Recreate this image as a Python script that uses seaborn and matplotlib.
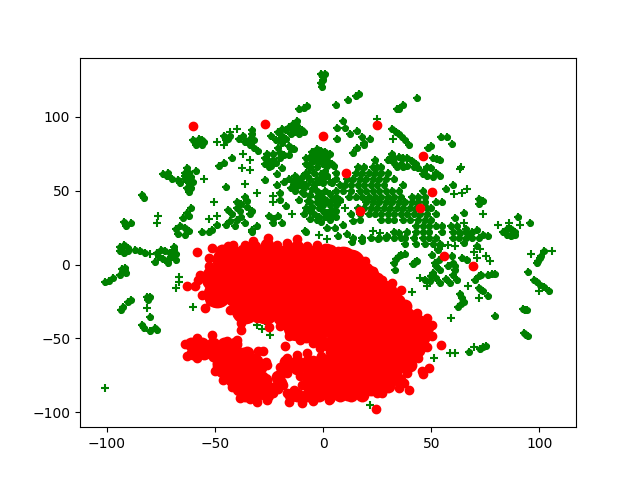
import seaborn as sns
import matplotlib
matplotlib.use("Agg")
import matplotlib.pyplot as plt

# (x, y)
# single crosses standing on their own
green_lone = [
    (-49,83),(-43,90),(-40,91.5),(-46,81),(-37,74.6),(-34,64),(-37.6,65.5),(-34,71),(-55,57.6),(-36,54.7),
    (-30.4,48.6),(-50.5,42),(-76.4,33),(-76.7,28),(-52.6,31),(-49,33),(-23,42),(-23,46.3),(-14.5,34),
    (25,98.8),(32.2,85),(63.4,64.4),(64,66),(66.5,51),(64.2,48.6),(60.6,48),(74.2,34),(91.2,27),(85.8,28.3),
    (80.9,27),(65,28),(-101,-83.6),(-66.7,-8.4),(-66.5,-12),(-68,-15.8),(-60,-29),(-81.3,-29.4),
    (-30.4,-40.7),(-28.4,-43.6),(-26.8,-38.4),(-24.8,-47.5),(1.7,17),(-2,20),(41.3,-18.6),(67,-14.3),
    (71.9,-22.6),(70,8.3),(71.1,4.5),(72.4,10.6),(75.3,5.6),(77.3,2.7),(59.1,-36.2),(99.7,-17.7),(96.4,7.2),
    (51.4,-62.9),(58.5,-60),(60.8,-60),(70,-55.8),(21.7,-95),(105.9,9),(-80,7),(49.5,18),(51.8,13.5),(58,13.5),
    (55,12.4),(61,12.4),(44.9,-9),(48,-14.7),(7.9,42),(10.2,38),(23.3,22.6),(26.4,21.5),
]

# crosses packed so tightly they read as solid patches
green_pts = [
    (-1,129),(1,129),(0,127),(0,125),(-1,123),(-0.5,120),(-11,105),(-9,106),(-7.5,107),
    (-60,84),(-59,81),(-57.5,85),(-57.5,82),(-56,84),(-56,81),(-55,83),
    (-46,87),(-44,85),(-43,87),(-45,84),
    (-39,85),(-37,87),(-36,83),(-34,85),(-33,91),(-33,88),(-32,84),(-34,81),(-32,79),(-30,77),
    (-27,72),(-25,70),(-23,71),(-27,68),(-24,67),(-22,69),(-20,72),(-25,66),
    (-20,75.7),(-13.7,78),(-26,74.6),(-23,75),(-15,78),(-18,74),(-16,74),(-16,80),
    (-21,90),(-19,92),(-17,91),(-14,95),(-12,94),(-10,91),(-13,90),(-15,88),(-17,85),(-19,82),
    (-21,79),(-20,85),(-22,84),(-9,90),(-24,87),(-16,93),(-12,97),(-14,92),(-11,88),(-19,87),
    (-48,66.7),(-46,69),(-42,72),(-63,65.5),(-59,63),(-72.4,60),(-62,55.4),(-66,55),(-61,52),
    (-64,62),(-61,59),(-64,58),(-70,58),(-74,61),(-72,62),(-64,60),(-62,62),(-67,57),(-63,52),(-60,56),(-62,49),
    (-45,52.5),(-27,57),(-21.4,61),(-19,65.5),(-84,47),(-83,45),
    (-91,26),(-92,29),(-89,28),(-63,35),(-61,38.4),(-64.7,31.7),(-62,33),
    (-68,24),(-66,26),(-64,25),(-62,23),(-67,21),(-64,20),(-56,22),(-53,22),(-51.5,23.7),(-49,27),
    (-43,29.4),(-45,27),(-41,26),(-43.8,37),(-40,42),(-36,46),(-38.4,36),
    (-33.8,34),(-36,28),(-33,23.7),(-30.7,26),(-42,34),(-38,41),(-35,39),(-40,30),(-38,32),(-40,38),(-35,43),(-33,36),
    (-23,30.5),(-25,33),(-19,28),(-21,33),(-23,28),
    (-20,44),(-17,39.6),(-20,48.6),(-21.4,54),
    (-16,58),(-14,56),(-12,57),(-10,55),(-8,54),(-6,57),(-4,54),(-2,56),(0,55),(-12,53),(-15,52),
    (-9,52),(-5,51),(-8,62),(-6,65),(-6,68),(-4,70),(-3,66),(-4,62),(-1,61),(1,63),(2,60),
    (-18,56),(-13,60),(-10,59),(-7,59),(-3,58),(0,58),(3,56),(-13,50),(-10,49),(-6,47),(-3,50),(0,45),
    (-8,68),(-8,72),(-6,73),(-3,74),(0,68),(-2,70),(2,70),(4,68),(6,62),(6,58),(8,54),(6,50),(6,46),(8,44),
    (-5,76),(-3,78),(-1,77),(1,76),(3,75),(-4,73),(-1,74),(2,73),(0,71),(2,67),
    (-9,48),(-11,44),(-7,43),(-3,46),(-1,47),(1,50),(3,48),(-1,42),(-8,38),(-6,36),(-4,34),(-2,32),
    (0,36),(2,34),(4,37),(-5,39),(0,40),(2,43),(-2,38),(-6,31),(-1,29),(3,30),(6,32),(-8,22),
    (3,40),(6,40),(6,36),(-3,42),(-6,42),(-9,34),(-3,30),(1,32),(4,33),
    (5.9,107.8),(11.6,111.4),(16.8,115.3),(15.3,114),(43.4,113),(35.3,105),(34,105),(37,108),
    (32,92),(33.5,90),(35,88),(36.5,86),(38,84),(39.5,81),
    (54.5,86),(57.2,86),(59.6,81.4),(48.7,79),(50,80),(52.6,71.2),(51,72),(54,71),
    (33,72),(35,73),(37,72),(39,72),(41,70),(43,68),(33,69),(36,68),(39,67),(42,66),(34,66),(37,66),(31,72),(44,65),
    (46.5,63),(48,66),(50,65),(52,62),(54,60),(48,60),(51,59),(46,61),
    (60,53.6),(57,51),(74.2,43),(72,40.7),(72,44.5),
    (90.1,32.3),(95.8,27.8),
    (83,22),(85,24),(87,24),(89,22),(85,20),(87,19),(89,20),
    (65,35),(61,31.7),(68,19),(74,20),(76.5,19.6),(63.4,21.5),(71,23.7),(66,24),(65,14.7),(71,12.4),
    (9.4,97),(6.3,92.7),(6.3,85),(10.2,92.7),(12.5,88),(15.6,90.4),(17.9,86),(21.7,84.8),(18.7,82.5),
    (15.6,79),(14,75.7),(19,81),(24,71),(30,71),(31.8,74.6),(4.8,66.7),(1.7,60),(4,55),
    (16,66),(19,66),(23,66),(25,66),(27,66),(15,62),(18,62),(21,62),(24,62),(27,62),(30,62),
    (11,58),(14,58),(17,58),(20,58),(23,58),(26,58),(29,58),(33,58),
    (10,54),(13,54),(16,54),(19,54),(22,54),(25,54),(28,54),(37,54),
    (9,50),(13,50),(17,50),(20,50),(23,50),(26,50),(29,50),(32,50),(35,50),(46,50),
    (12,46),(15,46),(18,46),(21,46),(24,46),(27,46),(30,46),(33,46),(36,46),(41,46),(44,46),(47,46),
    (20,42),(23,42),(26,42),(29,42),(32,42),(35,42),(38,42),(41,42),(44,42),(47,42),(52,42),(55,42),
    (16,38),(19,38),(22,38),(25,38),(28,38),(31,38),(34,38),(37,38),(40,38),(43,38),(48,38),(50,38),
    (13,34),(17,34),(21,34),(24,34),(27,34),(30,34),(33,34),(36,34),(39,34),(42,34),(45,34),(48,34),(52,34),
    (17,30),(27,30),(30,30),(33,30),(37,30),(40,30),(44,30),(47,30),(50,30),
    (43,26),(46,26),(49,26),(52,26),(55,26),(59,26),(62,26),
    (33,22),(39,22),(43,22),(46,22),(49,22),(55,22),(60,22),(63,22),(66,22),(69,22),
    (14,18),(18,18),(22,18),(26,18),(29,18),(33,18),(36,18),(38,18),(42,18),(46,18),(49,18),(52,18),
    (60,18),(63,18),(66,18),(69,18),(72,18),(38,14),(43,14),(47,14),(51,14),(54,14),
    (13.3,15),(18,16),(25.6,17),(29.5,19),(35,21.5),
    (5.5,25),(9.4,27),(7,19),(11,20.4),(1.7,25),(14,29.4),(1.7,35),(4,44),
    (-94,12),(-92,13),(-90.5,11),(-94,9),(-92,8),(-90.5,9.5),(-84.7,9),(-87,10),(-82.4,8),
    (-77,8),(-75,10),(-73,9),(-71,8),(-69,10),(-68,7),(-76,5),(-74,4),(-72,3),(-70,5),(-68,3),(-78,2),(-69,12),(-72,1),
    (-91.7,-4.5),(-94,-6.8),(-97,-9),(-101,-12),(-99,-11),(-91,-6),(-91.7,-2.3),(-93,-3),
    (-80.9,-23.8),(-81.5,-22),(-80,-22),(-90.4,-25.3),(-93.7,-31),(-92.5,-29),(-89,-24),
    (-80,-35.7),(-83,-43),(-80,-45),(-77,-44.5),(-84,-41),(-78,-43),(-8.3,22.6),(-33,22),
    (33.3,-3.4),(32.9,1),(34.9,5.6),(38,7.4),(36,6.5),(33.5,3.5),(42.6,1.6),(41.5,0.5),(43.5,2.5),
    (50.3,6.8),(51.8,1),(51,-5.7),(47.2,-10.2),(49.5,-11.3),(54.2,-12.5),(58.8,-12.5),(61.9,-10.2),(61.1,-3.4),
    (60.3,1),(64.2,4.5),(54.2,-3.4),(58,-1.2),(53.4,3.4),(59.6,5.6),(66.5,3.4),
    (53,10),(50,-8),(52,-9),(57,-10),(60,-7),(52,-1),(61,-1),
    (71.9,-8),(70.4,-10.2),(73,-7),(76.5,-6.8),(79.6,-6.1),(78,-6.5),
    (73.1,-17),(72,-16),(74,-18),(76.5,-21),
    (64.2,-22.6),(65,-25),(62.6,-28.7),(64,-27),(63.5,-20),(79.6,-35),
    (93.5,-30.5),(92.5,-30),(94.5,-31),(94,-47.5),(93,-46.5),(95,-48),(94.6,-5),
    (98.9,1),(100.5,4.5),(102,9),(99.5,2.5),(101,6),
    (97.4,-10.2),(100.5,-13.6),(104.3,-18),(102,-15.5),(99,-12),
    (67.6,-59.2),(72.7,-57.2),(75.3,-55.4),(74,-56),
]

red_pts = [
    (-60,94),(-27,95),(0,87),(25,94.5),(46,73.5),(10.5,62),(50.5,49),(17,36.5),(45,38.5),(55.7,6),(69.5,-1),
    (-58.2,8.6),(-63,-14.7),(-54.6,-29.4),
    (-51.5,11.3),(-43.8,12.4),(-41.5,13.5),(-36,13.5),(-32.3,15.8),(-25.3,18),(-21.5,13.5),(-16.8,14.7),
    (-12.2,17),(-7.6,12.4),(-3,13.5),(1,11),(-53,4.5),(-53,-1),(-57,-6.8),(-59.3,-14.7),(-57.7,-10.2),
    (-56.2,-20.4),(-52.3,-24.9),(-47.7,-24.9),(-43,-30.5),(-36.9,-34),(-30.7,-36.2),(-24.5,-36.2),
    (-19.9,-41.8),(-16,-48.6),(-10.6,-50.9),(-4.5,-53.1),(-1.4,-56.5),(3.2,-58.8),
    (-38,-39.6),(-38,-44),(-25,-42.3),(-17.6,-55.4),(-30,-58.3),(-28,-58.3),
    (-63.9,-53.8),(-62.8,-61.7),(-58.5,-49.7),(-51.5,-47.5),(-44.6,-52),(-40,-50.9),(-36.9,-58.8),(-32.3,-63.3),
    (-28.4,-70.1),(-26.4,-65.6),(-26,-68),(-27.6,-75.7),(-25.3,-82.5),(-21.5,-78),(-16.8,-87),(-9.9,-93.8),
    (-16,-92.7),(-4.5,-92),(2.5,-91.6),(-21,-84),
    (-58.5,-63.3),(-50.8,-62.2),(-49.2,-66.7),(-50,-72.3),
    (-46.2,-78),(-42.3,-82.5),(-38.4,-90.4),(-30.7,-92.7),(-26,-91.6),(-23,-87),(-34,-91),
    (-19.9,-69),(-16.8,-63.3),(-12.2,-61),(-7.6,-60),(-4.5,-64.4),(-19.9,-73.5),(-16.8,-73.5),(-10.6,-75.7),
    (-9.9,-81.4),(-13.7,-84.8),(-18.4,-81.4),(-13,-89),(-1,-62),(1,-64),
    (1.7,11.3),(7,9),(14,5.6),(19.4,2.2),(23.3,-4.5),(27.1,-10.2),(31.8,-12.5),(36.1,-17),(35.6,-23.8),
    (38.7,-30.5),(43.4,-32.8),(48,-36.2),(50.3,-40.7),(50.3,-48.6),(48,-55.9),(54.5,-54.3),(44.1,-63.3),
    (49.2,-69.9),(45.7,-71.7),(46.4,-73.9),(38.7,-73.5),(37.2,-79.8),(34.9,-83.2),(39.5,-84.8),(27.1,-86.6),
    (24.8,-87),(18.7,-86),(14.8,-83.6),(11,-88.6),(5.5,-87),(3.2,-91.1),(24.5,-97.9),(31,-77),(-1.4,-84.8),
]

# thick parts of the red edge and the two lower lobes
red_mid_pts = [
    (-47,9),(-42,9),(-37,9),(-32,9),(-27,9),(-22,9),(-17,9),(-12,9),(-7,9),(-2,9),(3,9),(8,6),
    (-32,12),(-26,13),(-12,12),
    (20,-3),(25,-10),(30,-17),(34,-24),(38,-28),(44,-38),(48,-42),(46,-50),(44,-58),(40,-68),(35,-78),(30,-82),(22,-84),(14,-80),(8,-86),
    (-20,-36),(-14,-46),(-8,-48),(-2,-50),(2,-54),
    (-61,-54),(-56,-54),(-51,-54),(-46,-54),(-41,-54),
    (-60,-60),(-55,-60),(-50,-60),(-45,-60),(-40,-60),(-35,-60),
    (-46,-65),(-41,-65),(-36,-65),(-31,-65),(-46,-72),(-41,-72),(-36,-72),(-31,-72),
    (-42,-78),(-37,-78),(-32,-78),(-27,-78),(-39,-84),(-34,-84),(-29,-84),(-24,-84),(-36,-88),(-31,-88),(-26,-88),
    (-17,-66),(-12,-66),(-7,-66),(-2,-66),(3,-66),(-17,-70),(-12,-70),(-7,-70),(-2,-70),
    (-7,-76),(-2,-76),(-6,-82),(-1,-82),
    (-12,-88),(-7,-88),(-2,-88),(3,-88),(8,-88),(13,-88),(18,-88),(-20,-80),(-21,-76),(-15,-88),
]

# the solid middle of the red mass, thousands of overlapping points in the original
red_core_pts = [
    (-45,3),(-36,3),(-27,3),(-18,3),(-9,3),(0,3),(9,3),(13,1),
    (-50,-9),(-41,-9),(-32,-9),(-23,-9),(-14,-9),(-5,-9),(4,-9),(13,-9),(20,-9),
    (-49,-20),(-40,-20),(-31,-20),(-22,-20),(-13,-20),(-4,-20),(5,-20),(14,-20),(23,-20),(28,-20),
    (-36,-31),(-27,-31),(-18,-31),(-9,-31),(0,-31),(9,-31),(18,-31),(27,-31),(33,-31),(38,-38),
    (-12,-42),(-3,-42),(6,-42),(15,-42),(24,-42),(33,-42),(42,-42),(44,-44),
    (10,-53),(19,-53),(28,-53),(37,-53),(42,-53),
    (10,-64),(19,-64),(28,-64),(36,-64),
    (-3,-72),(6,-75),(15,-75),(24,-75),(30,-72),
    (6,-80),(15,-78),(24,-78),(-3,-82),
    (-45,-68),(-37,-75),(-34,-82),(-40,-66),
]

lone_x = [p[0] for p in green_lone]
lone_y = [p[1] for p in green_lone]
green_x = [p[0] for p in green_pts]
green_y = [p[1] for p in green_pts]
red_x = [p[0] for p in red_pts]
red_y = [p[1] for p in red_pts]
mid_x = [p[0] for p in red_mid_pts]
mid_y = [p[1] for p in red_mid_pts]
core_x = [p[0] for p in red_core_pts]
core_y = [p[1] for p in red_core_pts]

fig, ax = plt.subplots(figsize=(6.4, 4.8), dpi=100)
sns.scatterplot(x=lone_x, y=lone_y, marker="+", color="g", s=36, linewidth=1.5, ax=ax, legend=False)
sns.scatterplot(x=green_x, y=green_y, marker="+", color="g", s=36, linewidth=1.5, ax=ax, legend=False)
sns.scatterplot(x=green_x, y=green_y, marker="o", color="g", s=26, linewidth=0, ax=ax, legend=False)
sns.scatterplot(x=red_x, y=red_y, marker="o", color="r", edgecolor="r", s=36, linewidth=1, ax=ax, legend=False)
sns.scatterplot(x=mid_x, y=mid_y, marker="o", color="r", s=100, linewidth=0, ax=ax, legend=False)
sns.scatterplot(x=core_x, y=core_y, marker="o", color="r", s=400, linewidth=0, ax=ax, legend=False)

ax.set_xlim(-112.5, 117)
ax.set_ylim(-110, 140)
ax.set_xticks([-100, -50, 0, 50, 100])
ax.set_yticks([-100, -50, 0, 50, 100])
plt.savefig("out.png", dpi=100)
